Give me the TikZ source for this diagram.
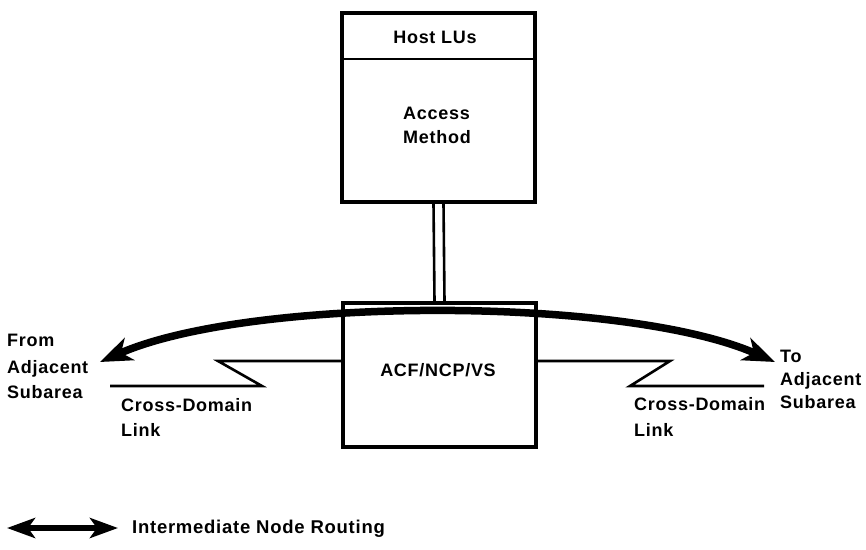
\documentclass[tikz,border=0pt]{standalone}
\usepackage{fontspec}
\setmainfont{Liberation Sans}[LetterSpace=4]
\usetikzlibrary{arrows.meta}
\begin{document}
\begin{tikzpicture}[x=1pt,y=-1pt,
  box/.style={draw, line width=3.4pt, inner sep=0pt, rectangle},
  lbl/.style={font=\fontsize{18}{22}\selectfont\bfseries, inner sep=0pt, anchor=base west},
  clbl/.style={font=\fontsize{18}{22}\selectfont\bfseries, inner sep=0pt, anchor=base},
  link/.style={line width=2.6pt},
  route/.style={line width=7.5pt, {Stealth[length=32pt,width=24pt,inset=9pt]}-{Stealth[length=32pt,width=24pt,inset=9pt]}},
  legarrow/.style={line width=6pt, {Stealth[length=28pt,width=20pt,inset=7pt]}-{Stealth[length=28pt,width=20pt,inset=7pt]}}]
\useasboundingbox (0,0) rectangle (866,549);
% host box
\node[box, minimum width=193pt, minimum height=189pt] (host) at (438.5,107.5) {};
\draw[line width=2.6pt] (host.west |- 0,59) -- (host.east |- 0,59);
\node[clbl] (hostlus) at (435,43) {Host LUs};
\node[lbl] (access) at (403,119) {Access};
\node[lbl] (method) at (403,143) {Method};
% ACF box
\node[box, minimum width=193pt, minimum height=144pt] (acf) at (439.5,375) {};
\node[clbl] (acftext) at (438,376) {ACF/NCP/VS};
% stem
\draw[link] ([xshift=-5pt]host.south) -- ([xshift=-5pt]acf.north);
\draw[link] ([xshift=5pt]host.south) -- ([xshift=5pt]acf.north);
% left link
\coordinate (lz1) at (218,361);
\coordinate (lz2) at (262,386);
\coordinate (lend) at (110,386);
\draw[link] (acf.west |- 0,361) -- (lz1) -- (lz2) -- (lend);
% right link
\coordinate (rz1) at (670,361);
\coordinate (rz2) at (630,386);
\coordinate (rend) at (764,386);
\draw[link] (acf.east |- 0,361) -- (rz1) -- (rz2) -- (rend);
% routing curve
\coordinate (rl) at (100,362);
\coordinate (rr) at (775,362);
\draw[route] (rl) .. controls (250,296) and (625,296) .. (rr);
% labels
\node[lbl] (from1) at (7,346) {From};
\node[lbl] (from2) at (7,373) {Adjacent};
\node[lbl] (from3) at (7,398) {Subarea};
\node[lbl] (cdl1) at (121,411) {Cross-Domain};
\node[lbl] (cdl2) at (121,436) {Link};
\node[lbl] (cdr1) at (634,410) {Cross-Domain};
\node[lbl] (cdr2) at (634,436) {Link};
\node[lbl] (to1) at (780,362) {To};
\node[lbl] (to2) at (780,385) {Adjacent};
\node[lbl] (to3) at (780,408) {Subarea};
% legend
\coordinate (la) at (7,528);
\coordinate (lb) at (118,528);
\draw[legarrow] (la) -- (lb);
\node[lbl, font=\fontsize{18.5}{23}\selectfont\bfseries] (legtext) at (132,533) {Intermediate Node Routing};
\end{tikzpicture}
\end{document}
